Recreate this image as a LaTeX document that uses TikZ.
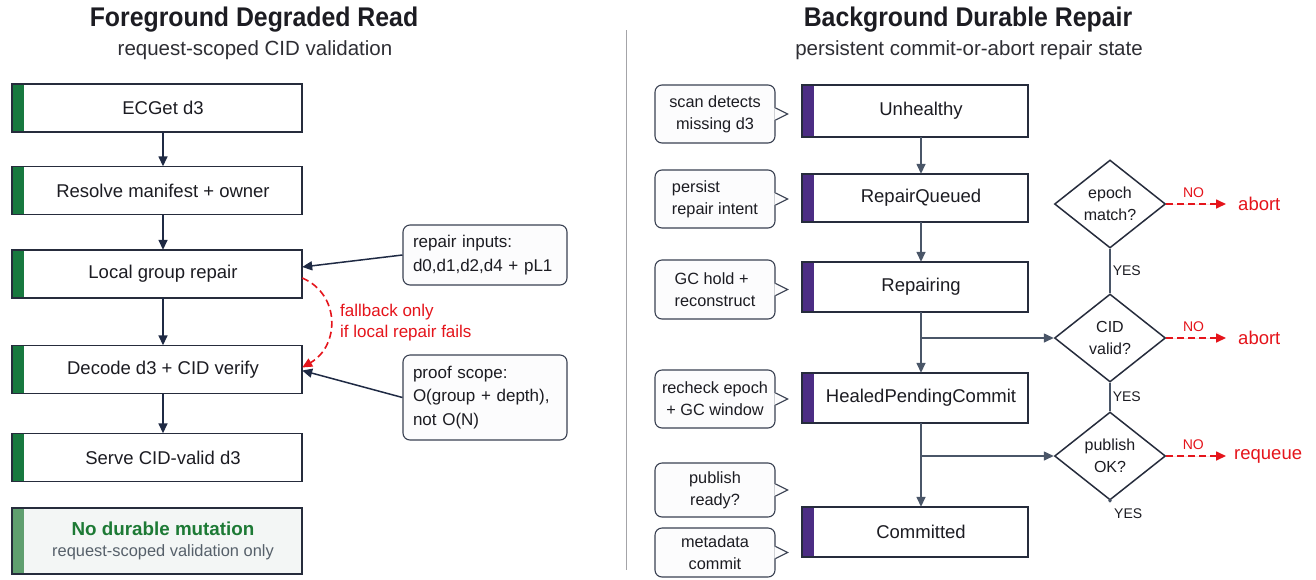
\documentclass[tikz,border=0pt]{standalone}
\usepackage{fontspec}
\setmainfont{Liberation Sans}
\usetikzlibrary{arrows.meta,shapes.geometric,calc}

\definecolor{ink}{HTML}{1C1C22}
\definecolor{subink}{HTML}{2E2E34}
\definecolor{boxedge}{HTML}{262C3C}
\definecolor{flowleft}{HTML}{1F2A44}
\definecolor{flowright}{HTML}{4A5668}
\definecolor{stagegreen}{HTML}{18793F}
\definecolor{softgreen}{HTML}{5F9F6F}
\definecolor{okgreen}{HTML}{1D7A35}
\definecolor{mutefill}{HTML}{F3F6F5}
\definecolor{mutetext}{HTML}{56606A}
\definecolor{stagepurple}{HTML}{4C2D84}
\definecolor{alertred}{HTML}{E5141B}
\definecolor{notefill}{HTML}{FCFCFD}
\definecolor{noteedge}{HTML}{3A4152}
\definecolor{divider}{HTML}{A4A4A8}

% stage box: white text area with a coloured bar on its left
\newcommand{\stageat}[5]{%
  \node[#1] (#2) at (#3) {#5};
  \fill[#4] ([xshift=-12pt]#2.north west) rectangle (#2.south west);
  \draw[edgeline] ([xshift=-12pt]#2.north west) rectangle (#2.south east);
}
% note bubble with a small pointer on its right side
\newcommand{\noteat}[5]{%
  \node[callnote, minimum height=#3, align=#4] (#1) at (#2) {#5};
  \fill[notefill] ([xshift=-1.2pt,yshift=6pt]#1.east) -- ([xshift=12pt]#1.east)
    -- ([xshift=-1.2pt,yshift=-6pt]#1.east) -- cycle;
  \draw[noteedge, line width=1.1pt, line join=miter]
    ([yshift=6pt]#1.east) -- ([xshift=12pt]#1.east) -- ([yshift=-6pt]#1.east);
}

\begin{document}
\begin{tikzpicture}[x=1pt, y=-1pt,
  stagebox/.style={fill=white, inner sep=0pt, text=ink,
    font=\fontsize{18.5}{22}\selectfont},
  leftstage/.style={stagebox, minimum width=278pt, minimum height=48pt},
  rightstage/.style={stagebox, minimum width=214pt, minimum height=50pt},
  edgeline/.style={draw=boxedge, line width=1.5pt},
  callnote/.style={draw=noteedge, fill=notefill, line width=1.1pt,
    rounded corners=7pt, minimum width=120pt, inner sep=3pt, text=ink,
    font=\fontsize{16.3}{22}\selectfont},
  sidenote/.style={draw=noteedge, fill=notefill, line width=1.1pt,
    rounded corners=7pt, text width=144pt, align=left, inner xsep=10pt,
    inner ysep=0pt, text=ink, font=\fontsize{17}{23.5}\selectfont},
  decision/.style={diamond, draw=boxedge, line width=1.5pt, fill=white,
    inner sep=0pt, minimum width=111pt, minimum height=88pt, align=center,
    text=ink, font=\fontsize{16}{22}\selectfont},
  tip/.style={-{Triangle[length=10pt,width=9pt]}},
  flowL/.style={draw=flowleft, line width=1.5pt, tip},
  flowR/.style={draw=flowright, line width=1.5pt, tip},
  plainR/.style={draw=flowright, line width=1.5pt},
  noflow/.style={draw=alertred, fill=alertred, line width=1.6pt,
    dash pattern=on 7pt off 4pt, -{Triangle[length=10pt,width=9pt]}},
  yeslabel/.style={text=ink, inner sep=2pt, font=\fontsize{14}{16}\selectfont},
  nolabel/.style={text=alertred, inner sep=2pt, font=\fontsize{14}{16}\selectfont},
  outcome/.style={text=alertred, inner sep=0pt, font=\fontsize{18.5}{22}\selectfont},
  heading/.style={text=ink, font=\bfseries\fontsize{27}{30}\selectfont},
  subheading/.style={text=subink, font=\fontsize{20.5}{24}\selectfont},
]
\useasboundingbox[fill=white] (0,0) rectangle (1316,579);

% ---------- headings ----------
\node[heading] (hl) at (254,20) {\scalebox{0.92}[1]{Foreground Degraded Read}};
\node[subheading] (sl) at (255,50) {request-scoped CID validation};
\node[heading] (hr) at (968,20) {\scalebox{0.92}[1]{Background Durable Repair}};
\node[subheading] (sr) at (969,50) {persistent commit-or-abort repair state};

\coordinate (dtop) at (626,30);
\coordinate (dbot) at (626,570);
\draw[divider, line width=1pt] (dtop) -- (dbot);

% ---------- foreground read path ----------
\stageat{leftstage}{ec}{163,108}{stagegreen}{ECGet d3}
\stageat{leftstage}{res}{163,190.5}{stagegreen}{Resolve manifest + owner}
\stageat{leftstage}{loc}{163,274}{stagegreen}{Local group repair}
\stageat{leftstage}{dec}{163,369.5}{stagegreen}{Decode d3 + CID verify}
\stageat{leftstage}{srv}{163,457.5}{stagegreen}{Serve CID-valid d3}
\stageat{leftstage, minimum height=66pt, fill=mutefill, align=center}{nd}{163,541}{softgreen}{%
  {\bfseries\color{okgreen}\fontsize{18.8}{23}\selectfont No durable mutation}\\[-1pt]
  {\color{mutetext}\fontsize{16.4}{20}\selectfont request-scoped validation only}}

\node[sidenote, minimum height=60pt] (ri) at (485,255)
  {repair inputs:\\d0,d1,d2,d4 + pL1};
\node[sidenote, minimum height=85pt] (ps) at (485,397.5)
  {proof scope:\\O(group + depth),\\not O(N)};

\draw[flowL] (ec) -- (res);
\draw[flowL] (res) -- (loc);
\draw[flowL] (loc) -- (dec);
\draw[flowL] (dec) -- (srv);
\draw[flowL] (ri.west) -- ([yshift=7pt]loc.east);
\draw[flowL] (ps.west) -- ([yshift=-1pt]dec.east);

\draw[noflow, fill=none] ([yshift=-4pt]loc.east)
  .. controls ($(loc.east)+(38,20)$) and ($(dec.east)+(38,-24)$)
  .. ([yshift=2pt]dec.east);
\node[anchor=west, align=left, text=alertred, inner sep=0pt,
  font=\fontsize{17}{21}\selectfont] (fb) at (340,322.5)
  {fallback only\\if local repair fails};

% ---------- background repair state machine ----------
\stageat{rightstage, minimum height=52pt}{unh}{921,111}{stagepurple}{Unhealthy}
\stageat{rightstage, minimum height=48pt}{rq}{921,198}{stagepurple}{RepairQueued}
\stageat{rightstage}{rep}{921,287}{stagepurple}{Repairing}
\stageat{rightstage}{heal}{921,398}{stagepurple}{HealedPendingCommit}
\stageat{rightstage}{comm}{921,532}{stagepurple}{Committed}

\noteat{n1}{715,114}{58pt}{center}{scan detects\\missing d3}
\noteat{n2}{715,199}{58pt}{left}{persist\\repair intent}
\noteat{n3}{715,289.5}{59pt}{left}{GC hold +\\reconstruct}
\noteat{n4}{715,399}{58pt}{center}{recheck epoch\\+ GC window}
\noteat{n5}{715,490}{54pt}{center}{publish\\ready?}
\noteat{n6}{715,552.5}{49pt}{center}{metadata\\commit}

\node[decision] (ep) at (1110,204) {epoch\\match?};
\node[decision] (cid) at (1110,338) {CID\\valid?};
\node[decision] (pub) at (1110,456) {publish\\OK?};

\draw[flowR] (unh) -- (rq);
\draw[flowR] (rq) -- (rep);
\draw[flowR] (rep) -- (heal);
\draw[flowR] (heal) -- (comm);
\draw[flowR] (rep.south |- cid.west) -- (cid.west);
\draw[flowR] (heal.south |- pub.west) -- (pub.west);

\draw[plainR] (ep.south) -- (cid.north) node[midway, right, yeslabel] {YES};
\draw[plainR] (cid.south) -- (pub.north) node[midway, right, yeslabel] {YES};
\fill[flowright] (pub.south) circle (1.8pt);
\node[yeslabel, anchor=west] (y3) at ($(pub.south)+(2,13)$) {YES};

\node[outcome, anchor=west] (ab1) at (1238,204) {abort};
\node[outcome, anchor=west] (ab2) at (1238,338) {abort};
\node[outcome, anchor=west] (rqu) at (1234,456) {requeue};

\draw[noflow, shorten >=12pt] (ep.east) -- (ab1.west)
  node[pos=0.38, above=4pt, nolabel] {NO};
\draw[noflow, shorten >=12pt] (cid.east) -- (ab2.west)
  node[pos=0.38, above=4pt, nolabel] {NO};
\draw[noflow, shorten >=8pt] (pub.east) -- (rqu.west)
  node[pos=0.4, above=4pt, nolabel] {NO};
\end{tikzpicture}
\end{document}
